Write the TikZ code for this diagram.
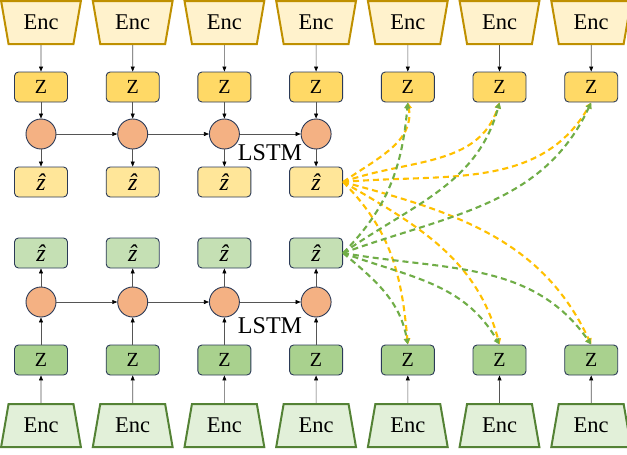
\documentclass[tikz,border=0pt]{standalone}
\usepackage{fontspec}
\setmainfont{Liberation Serif}
\usetikzlibrary{shapes.geometric,arrows.meta}
\definecolor{encYfill}{HTML}{FFF2CC}
\definecolor{encYdraw}{HTML}{BF9000}
\definecolor{encGfill}{HTML}{E2F0D9}
\definecolor{encGdraw}{HTML}{548235}
\definecolor{zYfill}{HTML}{FFD966}
\definecolor{zhYfill}{HTML}{FFE699}
\definecolor{zGfill}{HTML}{A9D18E}
\definecolor{zhGfill}{HTML}{C5E0B4}
\definecolor{cellfill}{HTML}{F4B183}
\definecolor{boxdraw}{HTML}{2B3A57}
\definecolor{dashY}{HTML}{FFC000}
\definecolor{dashG}{HTML}{70AD47}
\definecolor{thinline}{HTML}{555555}
\newcommand{\zhatsym}{{\itshape\^{z}}}
\begin{document}
\begin{tikzpicture}[x=1pt,y=1pt,
  enc/.style={trapezium, trapezium stretches=true, trapezium angle=75,
    minimum width=80pt, minimum height=43pt, line width=2pt, inner sep=0pt,
    font=\fontsize{22.5}{24}\selectfont},
  encT/.style={enc, shape border rotate=180, fill=encYfill, draw=encYdraw},
  encB/.style={enc, fill=encGfill, draw=encGdraw},
  zbox/.style={rectangle, rounded corners=4pt, draw=boxdraw, line width=0.9pt,
    minimum width=53pt, minimum height=30pt, inner sep=0pt,
    font=\fontsize{20}{21}\selectfont},
  zT/.style={zbox, fill=zYfill},
  zhT/.style={zbox, fill=zhYfill, font=\fontsize{24}{25}\selectfont},
  zB/.style={zbox, fill=zGfill},
  zhB/.style={zbox, fill=zhGfill, font=\fontsize{24}{25}\selectfont},
  cell/.style={circle, draw=boxdraw, line width=0.9pt, fill=cellfill,
    minimum size=30pt, inner sep=0pt},
  arr/.style={draw=thinline, line width=0.6pt,
    -{Triangle[length=5pt,width=4pt,color=black]}},
  lbl/.style={font=\fontsize{24}{26}\selectfont, inner sep=0pt},
  dsh/.style={line width=2.1pt, dash pattern=on 6pt off 4pt,
    -{Triangle[length=6pt,width=6pt]}},
  dY/.style={dsh, draw=dashY, dashY},
  dG/.style={dsh, draw=dashG, dashG}
]
\useasboundingbox (0,0) rectangle (627,-455);

\foreach \i in {1,...,7} {
  \pgfmathsetmacro\xx{41+91.7*(\i-1)}
  \node[encT] (et\i) at (\xx,-22.5) {Enc};
  \node[zT] (zt\i) at (\xx,-87) {Z};
  \node[encB] (eb\i) at (\xx,-425.5) {Enc};
  \node[zB] (zb\i) at (\xx,-360) {Z};
  \draw[arr] (et\i) -- (zt\i);
  \draw[arr] (eb\i) -- (zb\i);
}
\foreach \i in {1,...,4} {
  \pgfmathsetmacro\xx{41+91.7*(\i-1)}
  \node[cell] (ct\i) at (\xx,-134) {};
  \node[zhT] (zht\i) at (\xx,-182) {\zhatsym};
  \node[cell] (cb\i) at (\xx,-302) {};
  \node[zhB] (zhb\i) at (\xx,-253) {\zhatsym};
  \draw[arr] (zt\i) -- (ct\i);
  \draw[arr] (ct\i) -- (zht\i);
  \draw[arr] (zb\i) -- (cb\i);
  \draw[arr] (cb\i) -- (zhb\i);
}
\foreach \a/\b in {1/2,2/3,3/4} {
  \draw[arr] (ct\a) -- (ct\b);
  \draw[arr] (cb\a) -- (cb\b);
}
\node[lbl] (lstmT) at (270,-153) {LSTM};
\node[lbl] (lstmB) at (270,-326) {LSTM};

% yellow dashed from top z-hat
\draw[dY] (zht4.east) to[out=35,in=-80] (zt5.south);
\draw[dY] (zht4.east) to[out=20,in=-108] (zt6.south);
\draw[dY] (zht4.east) to[out=5,in=-120] (zt7.south);
\draw[dY] (zht4.east) to[out=-45,in=95] (zb5.north);
\draw[dY] (zht4.east) to[out=-30,in=105] (zb6.north);
\draw[dY] (zht4.east) to[out=-15,in=115] (zb7.north);
% green dashed from bottom z-hat
\draw[dG] (zhb4.east) to[out=45,in=-95] (zt5.south);
\draw[dG] (zhb4.east) to[out=35,in=-105] (zt6.south);
\draw[dG] (zhb4.east) to[out=20,in=-115] (zt7.south);
\draw[dG] (zhb4.east) to[out=-40,in=100] (zb5.north);
\draw[dG] (zhb4.east) to[out=-20,in=120] (zb6.north);
\draw[dG] (zhb4.east) to[out=-10,in=125] (zb7.north);
\end{tikzpicture}
\end{document}
